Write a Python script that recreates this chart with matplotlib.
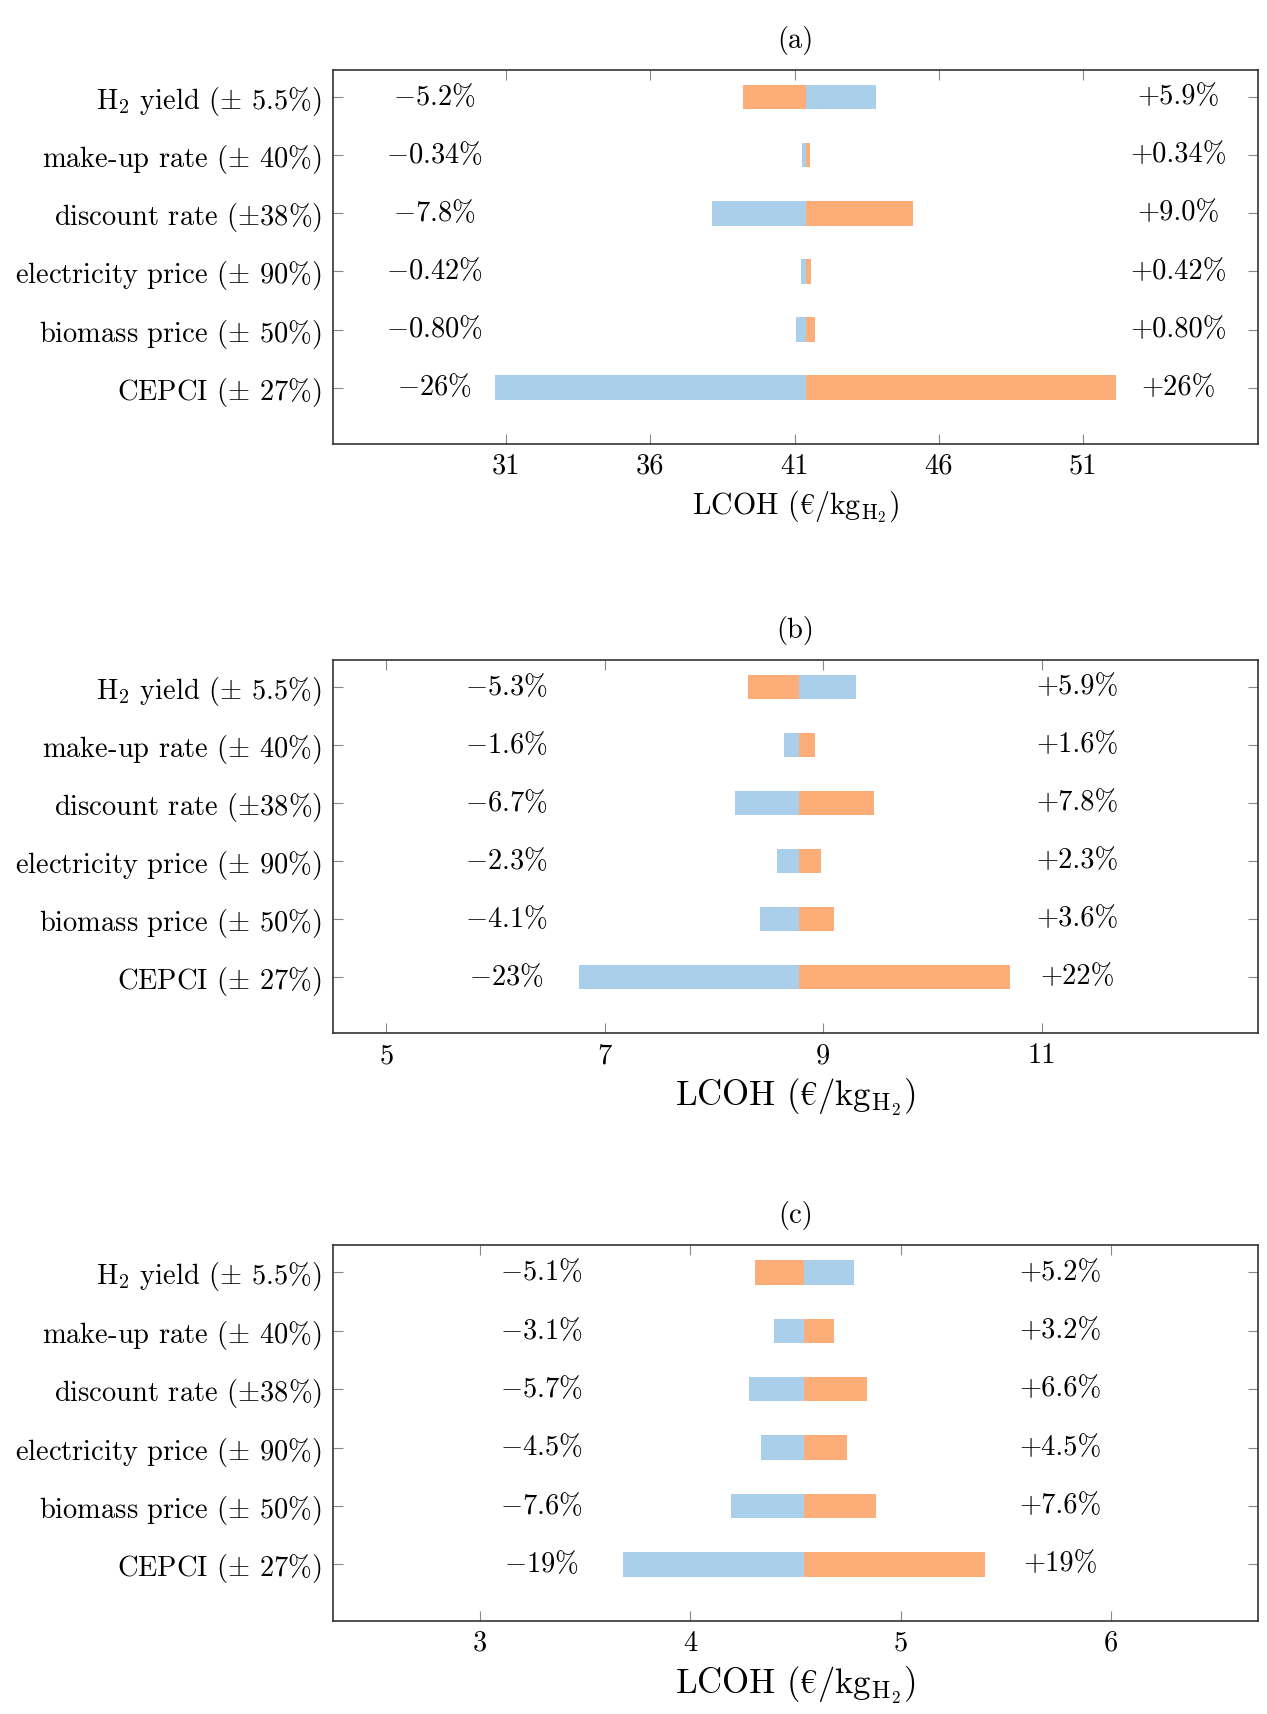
import numpy as np
import matplotlib
matplotlib.use("Agg")
import matplotlib.pyplot as plt

plt.rcParams['font.family'] = ['cmr10', 'DejaVu Serif']
plt.rcParams['mathtext.fontset'] = 'cm'
plt.rcParams['axes.formatter.use_mathtext'] = True
plt.rcParams['axes.unicode_minus'] = False

# parameters, top to bottom
params = [r"H$_2$ yield ($\pm$ 5.5%)",
          r"make-up rate ($\pm$ 40%)",
          r"discount rate ($\pm$38%)",
          r"electricity price ($\pm$ 90%)",
          r"biomass price ($\pm$ 50%)",
          r"CEPCI ($\pm$ 27%)"]
# LCOH rises when H2 yield drops -> colours swapped for that row
inverse = [True, False, False, False, False, False]

base_lcoh = [41.38, 8.78, 4.54]

low_a = [-5.2, -0.34, -7.8, -0.42, -0.80, -26]
high_a = [5.9, 0.34, 9.0, 0.42, 0.80, 26]
low_b = [-5.3, -1.6, -6.7, -2.3, -4.1, -23]
high_b = [5.9, 1.6, 7.8, 2.3, 3.6, 22]
low_c = [-5.1, -3.1, -5.7, -4.5, -7.6, -19]
high_c = [5.2, 3.2, 6.6, 4.5, 7.6, 19]

low_txt_a = ["5.2", "0.34", "7.8", "0.42", "0.80", "26"]
high_txt_a = ["5.9", "0.34", "9.0", "0.42", "0.80", "26"]
low_txt_b = ["5.3", "1.6", "6.7", "2.3", "4.1", "23"]
high_txt_b = ["5.9", "1.6", "7.8", "2.3", "3.6", "22"]
low_txt_c = ["5.1", "3.1", "5.7", "4.5", "7.6", "19"]
high_txt_c = ["5.2", "3.2", "6.6", "4.5", "7.6", "19"]

xticks_a = [31, 36, 41, 46, 51]
xticks_b = [5, 7, 9, 11]
xticks_c = [3, 4, 5, 6]

xlims = [(25.0, 57.06), (4.51, 12.98), (2.30, 6.70)]
# x position of the percentage texts
txt_pos = [(28.5, 54.3), (6.1, 11.33), (3.29, 5.76)]

panels = [
    ("(a)", low_a, high_a, low_txt_a, high_txt_a, xticks_a, 21.5),
    ("(b)", low_b, high_b, low_txt_b, high_txt_b, xticks_b, 25),
    ("(c)", low_c, high_c, low_txt_c, high_txt_c, xticks_c, 25),
]

blue = "#a9cfeb"
orange = "#fdad77"
fs = 20.5

fig = plt.figure(figsize=(12.67, 17.14), dpi=100)
axes_rects = [[0.2628, 0.7410, 0.7301, 0.2182],
              [0.2628, 0.3973, 0.7301, 0.2176],
              [0.2628, 0.0543, 0.7301, 0.2193]]

y = np.arange(len(params))[::-1]

for i, (title, low, high, ltxt, htxt, xt, xl_size) in enumerate(panels):
    ax = fig.add_axes(axes_rects[i])
    b = base_lcoh[i]
    low = np.array(low) / 100.0
    high = np.array(high) / 100.0
    for k in range(len(params)):
        c_left = orange if inverse[k] else blue
        c_right = blue if inverse[k] else orange
        ax.barh(y[k], b * low[k], left=b, height=0.42, color=c_left, linewidth=0)
        ax.barh(y[k], b * high[k], left=b, height=0.42, color=c_right, linewidth=0)
        ax.text(txt_pos[i][0], y[k], "$-$" + ltxt[k] + "%", ha="center", va="center",
                fontsize=fs)
        ax.text(txt_pos[i][1], y[k], "+" + htxt[k] + "%", ha="center", va="center",
                fontsize=fs)

    ax.set_xlim(*xlims[i])
    ax.set_ylim(-0.97, 5.47)
    ax.set_yticks(y)
    ax.set_yticklabels(params, fontsize=fs)
    ax.set_xticks(xt)
    ax.set_xticklabels([str(v) for v in xt], fontsize=fs)
    ax.tick_params(axis="both", direction="in", top=True, right=True,
                   length=7, width=0.8, color="#888888")
    ax.tick_params(axis="y", pad=8)
    ax.tick_params(axis="x", pad=7)
    for s in ax.spines.values():
        s.set_linewidth(1.2)
        s.set_color("#333333")
    ax.set_xlabel(r"LCOH ($€$/kg$_{\mathrm{H}_2}$)", fontsize=xl_size, labelpad=6)
    ax.set_title(title, fontsize=fs, pad=16)

fig.savefig("out.png", dpi=100)
